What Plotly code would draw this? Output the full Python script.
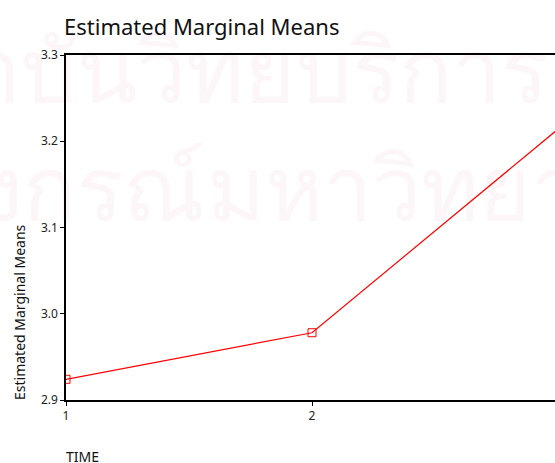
import plotly.graph_objects as go

# Data
time_levels = [1, 2, 3]
tick_labels = ["1", "2", "3"]
means = [2.924, 2.978, 3.214]
y_ticks = [2.9, 3.0, 3.1, 3.2, 3.3]
watermark_row1 = ["สถาบันวิทยบริการ"]
watermark_row2 = ["จุฬาลงกรณ์", "มหาวิทยาลัย"]

W, H = 555, 463
ML, MT = 66, 55
MB = H - 400
MR = 0
pw = W - ML
ph = H - MT - MB
X_PER_UNIT = 246.0
Y_MIN, Y_MAX = 2.9, 3.3


def px(xp):  # pixel -> paper fraction
    return (xp - ML) / pw


def py(yp):
    return (H - MB - yp) / ph


def dx(xp):  # pixel -> x data
    return 1 + (xp - ML) / X_PER_UNIT


def dy(yp):
    return Y_MIN + (Y_MAX - Y_MIN) * py(yp)


fig = go.Figure()

# faint watermark behind the data
wm_color = "#fdf6f9"
wm_size = 88
fig.add_trace(go.Scatter(
    x=[dx(548)], y=[dy(80)],
    mode="text", text=watermark_row1, textposition="middle left",
    textfont=dict(size=wm_size, color=wm_color),
    cliponaxis=False, hoverinfo="skip", showlegend=False,
))
fig.add_trace(go.Scatter(
    x=[dx(205), dx(207)], y=[dy(198), dy(198)],
    mode="text", text=watermark_row2,
    textposition=["middle left", "middle right"],
    textfont=dict(size=wm_size, color=wm_color),
    cliponaxis=False, hoverinfo="skip", showlegend=False,
))

fig.add_trace(go.Scatter(
    x=time_levels, y=means,
    mode="lines+markers",
    line=dict(color="#ff0000", width=1.2),
    marker=dict(symbol="square-open", size=8, color="#ff0000",
                line=dict(color="#ff0000", width=1)),
    cliponaxis=True,
    showlegend=False,
))

axis_font = dict(family="Noto Sans, sans-serif", size=12, color="#222222")

fig.update_layout(
    width=W, height=H,
    margin=dict(l=ML, r=MR, t=MT, b=MB, pad=0),
    paper_bgcolor="white", plot_bgcolor="rgba(0,0,0,0)",
    hovermode=False,
    title=dict(text="Estimated Marginal Means", x=64 / W, xanchor="left",
               y=1 - 27 / H, yanchor="middle",
               font=dict(family="Noto Sans, sans-serif", size=22, color="#111111")),
    xaxis=dict(
        range=[1, 1 + pw / X_PER_UNIT],
        tickmode="array", tickvals=time_levels, ticktext=tick_labels,
        ticks="outside", ticklen=4, tickwidth=1, tickcolor="black",
        showline=True, linecolor="black", linewidth=1.5, mirror=True,
        showgrid=False, zeroline=False, tickfont=axis_font,
    ),
    yaxis=dict(
        range=[Y_MIN, Y_MAX],
        tickmode="array", tickvals=y_ticks, tickformat=".1f",
        ticks="outside", ticklen=4, tickwidth=1, tickcolor="black",
        showline=True, linecolor="black", linewidth=1.5, mirror=False,
        showgrid=False, zeroline=False, tickfont=axis_font,
    ),
)

fig.add_annotation(text="Estimated Marginal Means", xref="paper", yref="paper",
                   x=px(19), y=py(312), xanchor="center", yanchor="middle",
                   textangle=-90, showarrow=False,
                   font=dict(family="Noto Sans, sans-serif", size=14, color="#111111"))
fig.add_annotation(text="TIME", xref="paper", yref="paper",
                   x=px(64), y=py(456), xanchor="left", yanchor="middle",
                   showarrow=False,
                   font=dict(family="Noto Sans, sans-serif", size=14, color="#111111"))

fig.write_html(
    "out.html",
    config={"displayModeBar": False},
    post_script="document.body.style.margin='0';document.body.style.overflow='hidden';",
)
